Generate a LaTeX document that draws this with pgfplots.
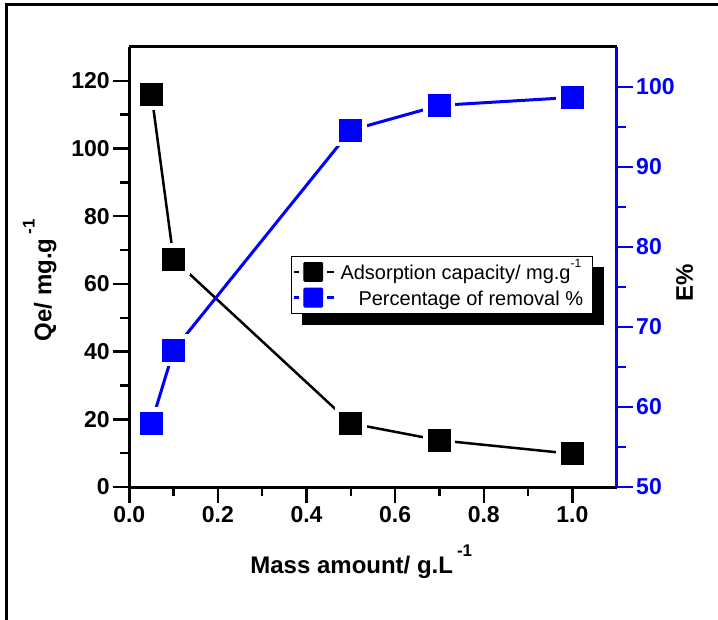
\documentclass[border=0pt]{standalone}
\usepackage{pgfplots}
\pgfplotsset{compat=1.18}
\usepackage{fontspec}
\setmainfont{Liberation Sans}

\definecolor{qblue}{RGB}{0,0,255}
\pgfdeclarelayer{shadow}
\pgfsetlayers{shadow,main}

\pgfplotsset{
  common/.style={
    scale only axis, width=487.4pt, height=440pt,
    xmin=0, xmax=1.1,
    tick align=outside,
    major tick length=16pt, minor tick length=9pt,
    ticklabel style={font=\bfseries\fontsize{23}{23}\selectfont},
    /pgf/number format/assume math mode=true,
    label style={font=\bfseries\fontsize{24}{24}\selectfont},
  },
}

\begin{document}
\begin{tikzpicture}
\begin{axis}[common,
  ymin=0, ymax=130,
  axis x line*=box, axis y line*=left,
  axis line style={line width=3pt},
  every tick/.append style={black, line width=2.5pt},
  xtick={0,0.2,0.4,0.6,0.8,1.0}, minor x tick num=1, xtick pos=left,
  ytick={0,20,...,120}, minor y tick num=1,
  xticklabel style={/pgf/number format/.cd, fixed, fixed zerofill, precision=1},
  xlabel={Mass amount/ g.L\,\raisebox{0.7em}{\fontsize{17}{17}\selectfont -1}},
  xlabel style={at={(axis description cs:0.476,-0.196)}, anchor=base},
  ylabel={Qe/ mg.g\,\raisebox{0.7em}{\fontsize{17}{17}\selectfont -1}},
  ylabel style={at={(axis description cs:-0.160,0.47)}, anchor=base},
]
\coordinate (O) at (rel axis cs:0,0);
% Qe / mg g^-1
\addplot[black, line width=2.5pt, forget plot] coordinates {
  (0.05,116.1) (0.1,67.3) (0.5,18.8) (0.7,13.8) (1.0,9.8)
};
\addplot[only marks, mark=square*, mark size=11pt, forget plot,
  mark options={draw=white, fill=white, line width=10pt}] coordinates {
  (0.05,116.1) (0.1,67.3) (0.5,18.8) (0.7,13.8) (1.0,9.8)
};
\addplot[only marks, mark=square*, mark size=11pt, forget plot,
  mark options={draw=black, fill=black, line width=1pt, rounded corners=2pt}] coordinates {
  (0.05,116.1) (0.1,67.3) (0.5,18.8) (0.7,13.8) (1.0,9.8)
};
\end{axis}

\begin{axis}[common,
  ymin=50, ymax=105, clip=false,
  axis x line=none, axis y line*=right,
  axis line style={qblue, line width=3pt},
  every tick/.append style={qblue, line width=2.5pt},
  xtick=\empty,
  ytick={50,60,...,100}, minor y tick num=1,
  yticklabel style={qblue},
  legend style={name=leg, at={(axis description cs:0.331,0.525)}, anchor=north west,
    draw=black, line width=0.8pt, fill=white,
    font=\fontsize{20}{22}\selectfont,
    inner xsep=2pt, inner ysep=4.5pt, row sep=3.7pt,
    nodes={inner sep=0pt, text height=19pt, text depth=3pt},
    /tikz/every odd column/.append style={column sep=5pt}},
  legend cell align=left,
]
\addlegendimage{legend image code/.code={
  \draw[black, line width=2.5pt] (0pt,0pt) -- (5pt,0pt);
  \fill[black, rounded corners=1pt] (9.5pt,-9.5pt) rectangle (28.5pt,9.5pt);
  \draw[black, line width=2.5pt] (33pt,0pt) -- (40pt,0pt);
}}
\addlegendentry{Adsorption capacity/ mg.g\raisebox{0.6em}{\fontsize{12}{12}\selectfont -1}\kern 9pt}
\addlegendimage{legend image code/.code={
  \draw[qblue, line width=2.5pt] (0pt,0pt) -- (5pt,0pt);
  \fill[qblue, rounded corners=1pt] (9.5pt,-9.5pt) rectangle (28.5pt,9.5pt);
  \draw[qblue, line width=2.5pt] (33pt,0pt) -- (40pt,0pt);
}}
\addlegendentry{\hspace{0.9em}Percentage of removal \%}
% E %
\addplot[qblue, line width=3pt, forget plot] coordinates {
  (0.05,58.0) (0.1,67.1) (0.5,94.6) (0.7,97.7) (1.0,98.7)
};
\addplot[only marks, mark=square*, mark size=11pt, forget plot,
  mark options={draw=white, fill=white, line width=10pt}] coordinates {
  (0.05,58.0) (0.1,67.1) (0.5,94.6) (0.7,97.7) (1.0,98.7)
};
\addplot[only marks, mark=square*, mark size=11pt, forget plot,
  mark options={draw=qblue, fill=qblue, line width=1pt, rounded corners=2pt}] coordinates {
  (0.05,58.0) (0.1,67.1) (0.5,94.6) (0.7,97.7) (1.0,98.7)
};
\node[rotate=90, anchor=base, font=\bfseries\fontsize{24}{24}\selectfont]
  at (rel axis cs:1.1565,0.4636) {E\%};
\end{axis}

% legend shadow and outer frame
\begin{pgfonlayer}{shadow}
\fill[black] ([shift={(11pt,-11pt)}]leg.south west) rectangle ([shift={(11pt,-11pt)}]leg.north east);
\end{pgfonlayer}
\draw[line width=3pt] ([shift={(-122.3pt,-150pt)}]O) -- ([shift={(-122.3pt,482pt)}]O) -- ([shift={(620pt,482pt)}]O);
\pgfresetboundingbox
\path[use as bounding box] ([shift={(-129.3pt,-132pt)}]O) rectangle ([shift={(588.7pt,487pt)}]O);
\end{tikzpicture}
\end{document}
